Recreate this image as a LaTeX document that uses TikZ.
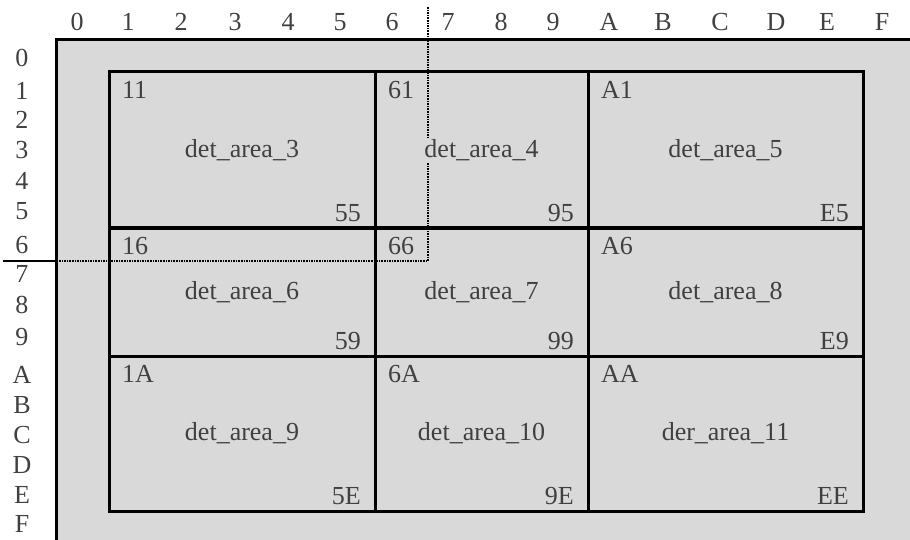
\documentclass[tikz,border=0pt]{standalone}
\usepackage{fontspec}
\setmainfont{Liberation Serif}
\usepackage{xcolor}
\usetikzlibrary{positioning,calc}
\definecolor{areagray}{RGB}{217,217,217}
\definecolor{labelgray}{RGB}{64,64,64}

\begin{document}
\begin{tikzpicture}[
    x=1pt, y=-1pt,
    font=\fontsize{26}{30}\selectfont,
    cell/.style={draw, line width=3pt, fill=areagray, outer sep=0pt,
                 inner sep=0pt},
    cellname/.style={fill=areagray, text=labelgray, inner sep=1pt},
    corner/.style={text=labelgray, inner sep=0pt},
    axis/.style={text=labelgray, inner sep=0pt},
    guide/.style={densely dotted, line width=1.6pt},
  ]
  \useasboundingbox (0,0) rectangle (910,540);

  % sheet
  \fill[areagray] (56,40) rectangle (910,540);
  \draw[line width=3pt] (910,40) -- (56,40) -- (56,540);

  % axis labels
  \foreach \lab/\xx in {0/77,1/128,2/181,3/235,4/288,5/340,6/392,7/448,
                        8/501,9/553,A/609,B/663,C/720,D/776,E/827,F/882}
    \node[axis] (col\lab) at (\xx,22) {\lab};
  \foreach \lab/\yy in {0/58,1/91,2/120,3/150,4/181,5/211,6/245,7/274,
                        8/305,9/337,A/375,B/405,C/435,D/465,E/495,F/524}
    \node[axis] (row\lab) at (22,\yy) {\lab};

  % guide lines
  \coordinate (gtop) at (428,7);
  \coordinate (gcorner) at (428,261);
  \coordinate (gedge) at (56,261);
  \coordinate (gleft) at (3,261);
  \draw[guide] (gtop) -- (gcorner) -- (gedge);
  \draw[line width=2pt] (gedge) -- (gleft);

  % detection areas
  \node[cell, minimum width=266pt, minimum height=156pt] (area3) at (242,150) {};
  \node[cell, minimum width=213pt, minimum height=156pt] (area4) at (481.5,150) {};
  \node[cell, minimum width=275pt, minimum height=156pt] (area5) at (725.5,150) {};
  \node[cell, minimum width=266pt, minimum height=128pt] (area6) at (242,292) {};
  \node[cell, minimum width=213pt, minimum height=128pt] (area7) at (481.5,292) {};
  \node[cell, minimum width=275pt, minimum height=128pt] (area8) at (725.5,292) {};
  \node[cell, minimum width=266pt, minimum height=155pt] (area9) at (242,433.5) {};
  \node[cell, minimum width=213pt, minimum height=155pt] (area10) at (481.5,433.5) {};
  \node[cell, minimum width=275pt, minimum height=155pt] (area11) at (725.5,433.5) {};
  % the guide runs under the cells, redraw it on top
  \draw[guide] (gtop) -- (gcorner) -- (gedge);

  \node[cellname] (name3) at (area3) {det\_area\_3};
  \node[cellname] (name4) at (area4) {det\_area\_4};
  \node[cellname] (name5) at (area5) {det\_area\_5};
  \node[cellname] (name6) at (area6) {det\_area\_6};
  \node[cellname] (name7) at (area7) {det\_area\_7};
  \node[cellname] (name8) at (area8) {det\_area\_8};
  \node[cellname] (name9) at (area9) {det\_area\_9};
  \node[cellname] (name10) at (area10) {det\_area\_10};
  \node[cellname] (name11) at (area11) {der\_area\_11};

  \node[corner, anchor=west] (from3) at ([shift={(13,18)}]area3.north west) {11};
  \node[corner, anchor=west] (from4) at ([shift={(13,18)}]area4.north west) {61};
  \node[corner, anchor=west] (from5) at ([shift={(13,18)}]area5.north west) {A1};
  \node[corner, anchor=west] (from6) at ([shift={(13,18)}]area6.north west) {16};
  \node[corner, anchor=west] (from7) at ([shift={(13,18)}]area7.north west) {66};
  \node[corner, anchor=west] (from8) at ([shift={(13,18)}]area8.north west) {A6};
  \node[corner, anchor=west] (from9) at ([shift={(13,18)}]area9.north west) {1A};
  \node[corner, anchor=west] (from10) at ([shift={(13,18)}]area10.north west) {6A};
  \node[corner, anchor=west] (from11) at ([shift={(13,18)}]area11.north west) {AA};

  \node[corner, anchor=east] (to3) at ([shift={(-14,-15)}]area3.south east) {55};
  \node[corner, anchor=east] (to4) at ([shift={(-14,-15)}]area4.south east) {95};
  \node[corner, anchor=east] (to5) at ([shift={(-14,-15)}]area5.south east) {E5};
  \node[corner, anchor=east] (to6) at ([shift={(-14,-15)}]area6.south east) {59};
  \node[corner, anchor=east] (to7) at ([shift={(-14,-15)}]area7.south east) {99};
  \node[corner, anchor=east] (to8) at ([shift={(-14,-15)}]area8.south east) {E9};
  \node[corner, anchor=east] (to9) at ([shift={(-14,-15)}]area9.south east) {5E};
  \node[corner, anchor=east] (to10) at ([shift={(-14,-15)}]area10.south east) {9E};
  \node[corner, anchor=east] (to11) at ([shift={(-14,-15)}]area11.south east) {EE};
\end{tikzpicture}
\end{document}
